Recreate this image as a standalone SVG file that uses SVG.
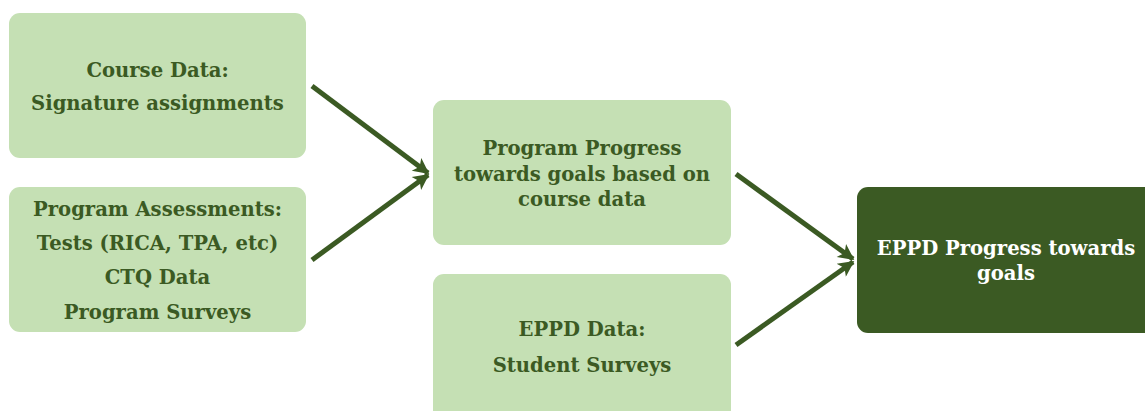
<svg xmlns="http://www.w3.org/2000/svg" width="1145" height="411" viewBox="0 0 1145 411">
<defs>
<style>
.lb{fill:#c5e0b4}
.db{fill:#3b5a23}
text{font-family:"DejaVu Serif","Liberation Serif",serif;font-weight:bold;font-size:19.6px;text-anchor:middle}
.t{fill:#3b5a23}
.w{fill:#ffffff}
.c{stroke:#3b5a23;stroke-width:5;fill:none}
</style>
<marker id="ah" viewBox="0 0 10 10" refX="9" refY="5" markerWidth="3.4" markerHeight="3.2" orient="auto" markerUnits="strokeWidth">
<path d="M0,0 L10,5 L0,10 L2.5,5 Z" fill="#3b5a23"/>
</marker>
</defs>
<rect width="1145" height="411" fill="#ffffff"/>
<g id="connectors">
<line class="c" x1="312" y1="86" x2="428" y2="173" marker-end="url(#ah)"/>
<line class="c" x1="312" y1="260" x2="428" y2="175" marker-end="url(#ah)"/>
<line class="c" x1="736" y1="174" x2="853" y2="259" marker-end="url(#ah)"/>
<line class="c" x1="736" y1="345" x2="853" y2="262" marker-end="url(#ah)"/>
</g>
<g id="course-data">
<rect class="lb" x="9" y="13" width="297" height="145" rx="11"/>
<text class="t" x="157.5" y="77">Course Data:</text>
<text class="t" x="157.5" y="110">Signature assignments</text>
</g>
<g id="program-assessments">
<rect class="lb" x="9" y="187" width="297" height="145" rx="11"/>
<text class="t" x="157.5" y="216">Program Assessments:</text>
<text class="t" x="157.5" y="250">Tests (RICA, TPA, etc)</text>
<text class="t" x="157.5" y="284">CTQ Data</text>
<text class="t" x="157.5" y="319">Program Surveys</text>
</g>
<g id="program-progress">
<rect class="lb" x="433" y="100" width="298" height="145" rx="11"/>
<text class="t" x="582" y="155">Program Progress</text>
<text class="t" x="582" y="181">towards goals based on</text>
<text class="t" x="582" y="206">course data</text>
</g>
<g id="eppd-data">
<rect class="lb" x="433" y="274" width="298" height="160" rx="11"/>
<text class="t" x="582" y="336">EPPD Data:</text>
<text class="t" x="582" y="372">Student Surveys</text>
</g>
<g id="eppd-progress">
<rect class="db" x="857" y="187" width="300" height="146" rx="11"/>
<text class="w" x="1006" y="255">EPPD Progress towards</text>
<text class="w" x="1006" y="280">goals</text>
</g>
</svg>
